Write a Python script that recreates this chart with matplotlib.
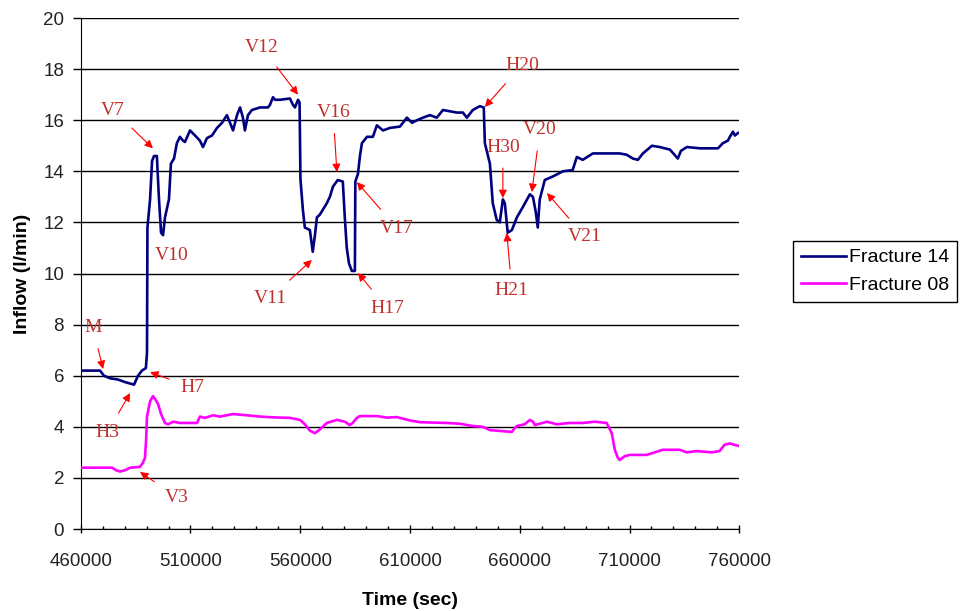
import matplotlib
matplotlib.use('Agg')
import matplotlib.pyplot as plt
from matplotlib.ticker import MultipleLocator

# Fracture 14 inflow (sec, l/min)
t14 = [460000, 468800, 470600, 473300, 477000, 480200, 484300, 486100, 487900, 489700,
       490200, 490400, 491600, 492500, 493400, 494700, 495600, 496600, 497500, 498400,
       500200, 501100, 502500, 503800, 505200, 506600, 507500, 509800, 512100, 514300,
       515700, 517500, 519800, 522100, 524400, 526600, 528000, 529400, 531200, 532600,
       533900, 534800, 536200, 538000, 541700, 545300, 546200, 547600, 548500, 550800,
       555300, 556700, 557600, 559000, 559700, 560100, 561200, 562100, 564400, 565700,
       566700, 567600, 568900, 570300, 572100, 573500, 574900, 577100, 579400, 580300,
       581200, 582200, 583500, 584900, 585100, 586300, 587200, 588100, 590400, 593100,
       594900, 597700, 600900, 605400, 608600, 610900, 613200, 615900, 619100, 622200,
       625000, 631300, 634100, 635900, 638600, 641800, 643600, 644100, 646400, 647700,
       649500, 650900, 652300, 653200, 654500, 656400, 658700, 661400, 664600, 666000,
       667300, 668200, 669100, 671400, 675100, 679600, 684100, 686000, 688700, 693300,
       697800, 705500, 708700, 711500, 713800, 716100, 720200, 723800, 728400, 732000,
       733400, 736100, 742100, 750300, 752500, 754800, 755700, 757100, 758000, 759400]
q14 = [6.2, 6.2, 6.0, 5.9, 5.85, 5.75, 5.65, 6.0, 6.2, 6.3,
       6.9, 11.8, 12.9, 14.4, 14.6, 14.6, 13.0, 11.6, 11.5, 12.2,
       12.9, 14.3, 14.5, 15.1, 15.35, 15.2, 15.15, 15.6, 15.4, 15.2,
       14.95, 15.3, 15.4, 15.7, 15.9, 16.2, 15.9, 15.6, 16.2, 16.5,
       16.1, 15.6, 16.2, 16.4, 16.5, 16.5, 16.6, 16.9, 16.8, 16.8,
       16.85, 16.6, 16.5, 16.8, 16.7, 13.7, 12.5, 11.8, 11.7, 10.85,
       11.5, 12.2, 12.3, 12.5, 12.75, 13.0, 13.4, 13.66, 13.6, 12.2,
       11.0, 10.4, 10.1, 10.1, 13.6, 13.9, 14.6, 15.1, 15.35, 15.35,
       15.8, 15.6, 15.7, 15.75, 16.1, 15.9, 16.0, 16.1, 16.2, 16.1,
       16.4, 16.3, 16.3, 16.1, 16.4, 16.55, 16.5, 15.1, 14.3, 12.75,
       12.1, 12.0, 12.9, 12.75, 11.6, 11.7, 12.2, 12.6, 13.1, 13.0,
       12.4, 11.8, 12.9, 13.66, 13.8, 14.0, 14.05, 14.56, 14.45, 14.7,
       14.7, 14.7, 14.65, 14.5, 14.45, 14.7, 15.0, 14.95, 14.85, 14.5,
       14.8, 14.95, 14.9, 14.9, 15.1, 15.2, 15.35, 15.55, 15.4, 15.5]

# Fracture 08 inflow
t08 = [460100, 474300, 476100, 477900, 480200, 482500, 487000, 488400, 489300, 489800,
       490200, 491600, 492900, 493800, 495200, 496600, 498400, 499800, 502100, 505200,
       513000, 514300, 516600, 520300, 523500, 529400, 535800, 541700, 547600, 555300,
       559900, 562100, 564400, 566700, 569000, 572100, 576700, 580300, 582600, 583900,
       585800, 587200, 594900, 599500, 604000, 610000, 614500, 626800, 632700, 638600,
       643200, 646400, 656400, 657700, 658700, 662300, 664600, 666000, 666900, 672400,
       674600, 676900, 682800, 688700, 694200, 699600, 701900, 703300, 704600, 705500,
       707800, 710100, 717800, 721500, 725100, 732900, 736100, 740600, 747400, 751000,
       753300, 755700, 757500, 759800]
q08 = [2.4, 2.4, 2.3, 2.25, 2.3, 2.4, 2.43, 2.6, 2.8, 3.5,
       4.4, 5.0, 5.2, 5.1, 4.9, 4.5, 4.15, 4.1, 4.2, 4.15,
       4.15, 4.4, 4.35, 4.45, 4.4, 4.5, 4.45, 4.4, 4.37, 4.35,
       4.27, 4.1, 3.85, 3.75, 3.9, 4.15, 4.27, 4.2, 4.07, 4.15,
       4.35, 4.42, 4.42, 4.36, 4.38, 4.25, 4.18, 4.15, 4.12, 4.03,
       4.0, 3.87, 3.8, 3.95, 4.03, 4.1, 4.27, 4.2, 4.07, 4.2,
       4.15, 4.1, 4.15, 4.15, 4.2, 4.15, 3.75, 3.1, 2.8, 2.7,
       2.85, 2.9, 2.9, 3.0, 3.1, 3.1, 3.0, 3.05, 3.0, 3.05,
       3.3, 3.35, 3.3, 3.25]

x_ticks = [460000, 510000, 560000, 610000, 660000, 710000, 760000]

# annotations: label, text position, arrow tip (None = no arrow)
notes = [
    ('M',   (465600, 7.87), (470200, 6.26)),
    ('H3',  (472000, 3.76), (482500, 5.32)),
    ('H7',  (511100, 5.52), (491600, 6.14)),
    ('V3',  (503900, 1.25), (487000, 2.23)),
    ('V7',  (474700, 16.4), (492900, 14.9)),
    ('V10', (501600, 10.72), None),
    ('V12', (542600, 18.83), (559000, 17.0)),
    ('V16', (575000, 16.3), (576700, 13.97)),
    ('V11', (546200, 9.04), (565300, 10.53)),
    ('H17', (599500, 8.65), (586300, 10.02)),
    ('V17', (604000, 11.78), (585800, 13.58)),
    ('H20', (661000, 18.16), (644100, 16.52)),
    ('H30', (652300, 14.95), (652300, 12.95)),
    ('V20', (669200, 15.62), (665500, 13.19)),
    ('V21', (689800, 11.43), (672400, 13.15)),
    ('H21', (656400, 9.35), (654100, 11.59)),
]

plt.rcParams['font.family'] = ['Liberation Sans', 'DejaVu Sans']

fig = plt.figure(figsize=(9.63, 6.11), dpi=100)
ax = fig.add_axes([0.0838, 0.1342, 0.6839, 0.8363])

ax.plot(t14, q14, color='#000080', lw=1.9, label='Fracture 14', zorder=3)
ax.plot(t08, q08, color='#ff00ff', lw=1.9, label='Fracture 08', zorder=3)

for lab, txt, tip in notes:
    if tip is None:
        ax.text(txt[0], txt[1], lab, ha='center', va='center', color='#c0302c',
                family='Liberation Serif', fontsize=14)
    else:
        ax.annotate(lab, xy=tip, xytext=txt, ha='center', va='center', color='#c0302c',
                    family='Liberation Serif', fontsize=14,
                    arrowprops=dict(arrowstyle='-|>', color='red', lw=0.8,
                                    mutation_scale=12, shrinkA=7, shrinkB=0),
                    zorder=4)

ax.set_xlim(460000, 760000)
ax.set_ylim(0, 20)
ax.set_xticks(x_ticks)
ax.xaxis.set_minor_locator(MultipleLocator(10000))
ax.yaxis.set_major_locator(MultipleLocator(2))
ax.grid(axis='y', color='black', lw=1)
ax.set_axisbelow(True)
ax.spines['top'].set_visible(False)
ax.spines['right'].set_visible(False)
ax.tick_params(axis='x', which='major', direction='inout', length=6, width=1,
               labelsize=13.5, pad=14, labelcolor='#222222')
ax.tick_params(axis='x', which='minor', direction='in', length=2.5, width=1)
ax.tick_params(axis='y', direction='out', length=6, width=1, labelsize=13.5,
               pad=6, labelcolor='#222222')
ax.set_xlabel('Time (sec)', fontweight='bold', fontsize=14, labelpad=16)
ax.set_ylabel('Inflow (l/min)', fontweight='bold', fontsize=14, labelpad=9)

fig.legend(loc='center left', bbox_to_anchor=(0.8235, 0.556), fontsize=14,
           frameon=True, fancybox=False, edgecolor='black', framealpha=1,
           handlelength=2.3, handletextpad=0.2, borderpad=0.4, labelspacing=0.5,
           borderaxespad=0)

fig.savefig('out.png', dpi=100)
